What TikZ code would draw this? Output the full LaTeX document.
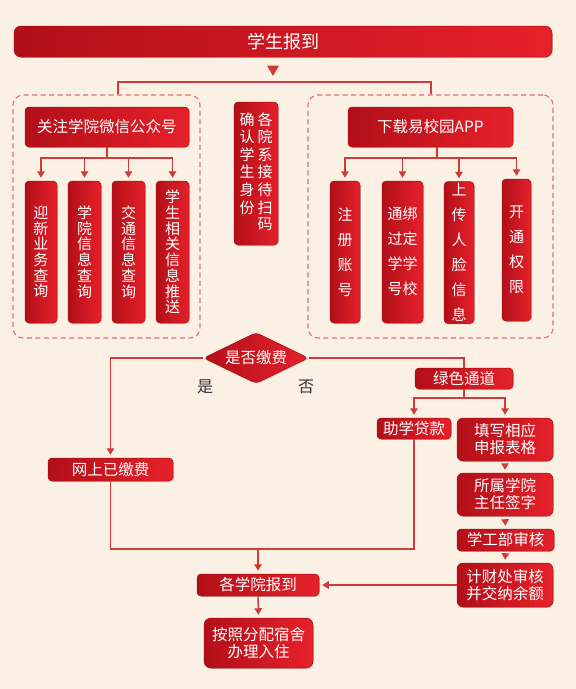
\documentclass[tikz,border=0pt]{standalone}
\usepackage{fontspec}
\setmainfont{Noto Sans CJK SC}
\usepackage{xcolor}
\usepackage{tikz}
\usetikzlibrary{positioning}
\usetikzlibrary{shapes.geometric}
\usetikzlibrary{arrows.meta}
\usetikzlibrary{shadows}
\definecolor{bgcream}{HTML}{FAF0E4}
\definecolor{boxdark}{HTML}{B20F19}
\definecolor{boxlight}{HTML}{E6212A}
\definecolor{boxedge}{HTML}{A00D15}
\definecolor{linered}{HTML}{D13A3A}
\definecolor{dashred}{HTML}{E07070}
\tikzset{
    redbox/.style = {rectangle, rounded corners=4pt, draw=boxedge, line width=0.5pt, left color=boxdark, right color=boxlight, text=white, align=center, inner sep=0pt, font=\fontsize{15.5}{17}\selectfont, drop shadow={opacity=0.25,shadow xshift=0.8pt,shadow yshift=-1.2pt}},
    vbox/.style = {redbox, minimum height=142pt, font=\fontsize{15}{15.7}\selectfont},
    vboxw/.style = {redbox, minimum height=142pt, font=\fontsize{15}{25}\selectfont},
    groupbox/.style = {rectangle, rounded corners=10pt, draw=dashred, line width=1.1pt, dash pattern=on 5pt off 3.5pt},
    tipmark/.style = {regular polygon, regular polygon sides=3, shape border rotate=180, fill=linered, inner sep=0pt, minimum size=14pt},
}

\begin{document}
\begin{tikzpicture}[x=1pt, y=-1pt]
\tikzset{
    conn/.style = {draw=linered, line width=1.4pt},
    connarr/.style = {conn, -{Triangle[width=7.5pt,length=6.5pt]}, shorten >=3pt},
}
\fill[bgcream] (0,0) rectangle (576,689);
\useasboundingbox (0,0) rectangle (576,689);
%
\node[redbox, minimum width=538pt, minimum height=31pt, rounded corners=7pt, font=\fontsize{18}{20}\selectfont] (title) at (283,41.5) {学生报到};
\node[tipmark] (tip) at (273,69) {};
%
\node[groupbox, minimum width=187pt, minimum height=243pt] (wxgroup) at (106.5,216.5) {};
\node[groupbox, minimum width=245pt, minimum height=243pt] (appgroup) at (430.5,216.5) {};
\coordinate (topl) at (118,82);
\coordinate (topr) at (431,82);
\draw[conn] (topl |- wxgroup.north) -- (topl) -- (topr) -- (topr |- appgroup.north);
%
\node[redbox, minimum width=164pt, minimum height=40pt] (wechat) at (107,127) {关注学院微信公众号};
\coordinate (wxsplit) at (107,158);
\node[vbox, minimum width=32pt] (q1) at (41,252) {迎\\新\\业\\务\\查\\询};
\node[vbox, minimum width=33pt] (q2) at (84.5,252) {学\\院\\信\\息\\查\\询};
\node[vbox, minimum width=33pt] (q3) at (128.5,252) {交\\通\\信\\息\\查\\询};
\node[vbox, minimum width=33pt] (q4) at (172.5,252) {学\\生\\相\\关\\信\\息\\推\\送};
\draw[conn] (wechat.south) -- (wxsplit);
\foreach \n in {q1,q2,q3,q4}
    \draw[connarr] (wxsplit) -| (\n.north);
%
\node[redbox, minimum width=44pt, minimum height=143pt, font=\fontsize{15}{16.5}\selectfont] (scan) at (256,173.5)
    {\begin{tabular}{@{}c@{\hspace{3pt}}c@{}}确&各\\认&院\\学&系\\生&接\\身&待\\份&扫\\&码\end{tabular}};
%
\node[redbox, minimum width=165pt, minimum height=40pt] (appdl) at (430.5,127) {下载易校园APP};
\coordinate (appsplit) at (437,158);
\node[vboxw, minimum width=30pt] (a1) at (345,252) {注\\册\\账\\号};
\node[vboxw, minimum width=41pt] (a2) at (402.5,252)
    {\begin{tabular}{@{}c@{}c@{}}通&绑\\过&定\\学&学\\号&校\end{tabular}};
\node[vboxw, minimum width=30pt] (a3) at (459,252.5) {上\\传\\人\\脸\\信\\息};
\node[vboxw, minimum width=29pt] (a4) at (516.5,250) {开\\通\\权\\限};
\draw[conn] (appsplit |- appdl.south) -- (appsplit);
\foreach \n in {a1,a2,a3,a4}
    \draw[connarr] (appsplit) -| (\n.north);
%
\node[redbox, diamond, aspect=2, minimum width=105pt, minimum height=51pt] (fee) at (256,358) {是否缴费};
\node[font=\fontsize{16}{18}\selectfont, text=black!80] (yes) at (205,387) {是};
\node[font=\fontsize{16}{18}\selectfont, text=black!80] (no) at (306,387) {否};
%
\node[redbox, minimum width=125pt, minimum height=23pt] (paid) at (110.5,469.5) {网上已缴费};
\node[redbox, minimum width=98pt, minimum height=21pt] (green) at (464,378.5) {绿色通道};
\coordinate (gsplit) at (464,398);
\node[redbox, minimum width=74pt, minimum height=21pt] (loan) at (414,428.5) {助学贷款};
\node[redbox, minimum width=96pt, minimum height=43pt, rounded corners=6pt] (form) at (505,439.5) {填写相应\\申报表格};
\node[redbox, minimum width=96pt, minimum height=43pt, rounded corners=6pt] (sign) at (505,494.5) {所属学院\\主任签字};
\node[redbox, minimum width=97pt, minimum height=22pt] (dept) at (505.5,540) {学工部审核};
\node[redbox, minimum width=96pt, minimum height=44pt, rounded corners=6pt] (finance) at (505,585) {计财处审核\\并交纳余额};
\node[redbox, minimum width=122pt, minimum height=22pt] (reg) at (258,585) {各学院报到};
\node[redbox, minimum width=109pt, minimum height=50pt, rounded corners=7pt] (dorm) at (258.5,643) {按照分配宿舍\\办理入住};
%
\draw[connarr] (fee.west) -| (paid.north);
\draw[conn] (fee.east) -| (green.north);
\draw[conn] (green.south) -- (gsplit);
\draw[connarr] (gsplit) -| (loan.north);
\draw[connarr] (gsplit) -| (form.north);
\draw[connarr, shorten <=3pt] (form.south) -- (sign.north);
\draw[connarr, shorten <=3pt] (sign.south) -- (dept.north);
\draw[connarr, shorten <=3pt] (dept.south) -- (finance.north);
%
\coordinate (merge) at (258,549);
\draw[conn] (paid.south) |- (loan.south |- merge) -- (loan.south);
\draw[connarr] (merge) -- (reg.north);
\draw[connarr] (finance.west) -- (reg.east);
\draw[connarr] (reg.south) -- (dorm.north);
\end{tikzpicture}
\end{document}
